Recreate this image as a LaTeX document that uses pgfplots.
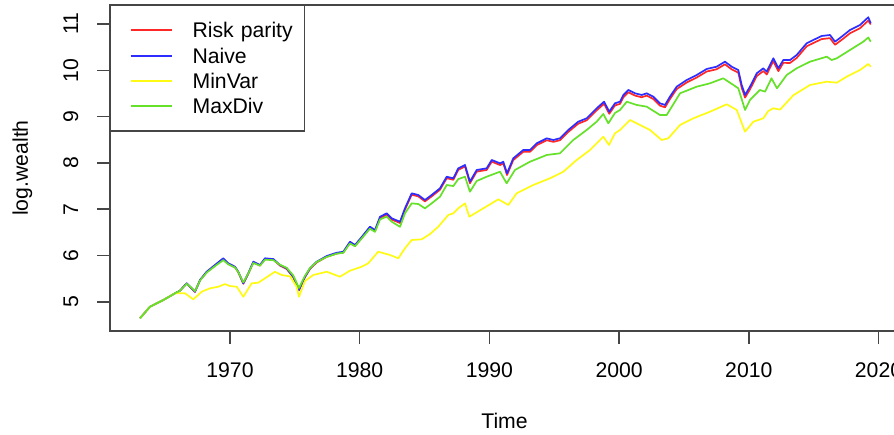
\documentclass[border=0pt]{standalone}
\usepackage{pgfplots}
\usepackage{pgfplotstable}
\pgfplotsset{compat=1.18}
\usepackage{fontspec}
\setmainfont{Liberation Sans}

\definecolor{rpcol}{RGB}{255,40,40}
\definecolor{nvcol}{RGB}{45,45,255}
\definecolor{mvcol}{RGB}{255,250,20}
\definecolor{mdcol}{RGB}{100,225,40}
\definecolor{framecol}{RGB}{70,70,70}

% Risk parity and naive (equal weight) portfolios, log of wealth
\pgfplotstableread{
year    rp      naive
1963.06 4.644   4.644
1963.83 4.894   4.894
1964.86 5.039   5.039
1965.76 5.184   5.184
1966.14 5.240   5.240
1966.66 5.395   5.400
1967.05 5.287   5.292
1967.30 5.213   5.218
1967.69 5.465   5.471
1968.20 5.640   5.650
1968.84 5.785   5.795
1969.48 5.925   5.940
1969.87 5.818   5.832
1970.39 5.745   5.758
1970.64 5.638   5.650
1971.03 5.390   5.400
1971.41 5.605   5.616
1971.80 5.852   5.866
1972.31 5.782   5.795
1972.70 5.925   5.940
1973.34 5.910   5.924
1973.86 5.782   5.795
1974.37 5.710   5.724
1974.88 5.530   5.542
1975.32 5.250   5.255
1975.78 5.530   5.542
1976.17 5.710   5.724
1976.68 5.850   5.866
1977.46 5.972   5.989
1978.23 6.042   6.060
1978.74 6.064   6.082
1979.25 6.278   6.298
1979.64 6.207   6.227
1980.28 6.420   6.443
1980.79 6.598   6.622
1981.18 6.527   6.551
1981.57 6.812   6.838
1982.08 6.884   6.911
1982.47 6.776   6.803
1983.11 6.702   6.730
1983.49 6.990   7.019
1984.01 7.313   7.343
1984.52 7.277   7.307
1985.03 7.169   7.199
1985.55 7.277   7.307
1986.19 7.420   7.451
1986.71 7.670   7.702
1987.22 7.635   7.667
1987.60 7.850   7.883
1988.12 7.922   7.955
1988.50 7.560   7.594
1989.02 7.812   7.847
1989.79 7.848   7.883
1990.18 8.027   8.063
1990.82 7.954   7.991
1991.07 7.989   8.026
1991.36 7.738   7.775
1991.84 8.061   8.099
1992.61 8.240   8.279
1993.13 8.240   8.279
1993.65 8.383   8.423
1994.42 8.490   8.531
1994.93 8.454   8.495
1995.44 8.490   8.531
1996.08 8.669   8.711
1996.85 8.847   8.890
1997.50 8.920   8.963
1998.27 9.135   9.179
1998.84 9.277   9.322
1999.24 9.061   9.106
1999.68 9.241   9.287
2000.07 9.275   9.322
2000.33 9.419   9.467
2000.71 9.526   9.575
2001.23 9.454   9.503
2001.74 9.417   9.467
2002.13 9.453   9.503
2002.64 9.380   9.430
2003.15 9.237   9.287
2003.54 9.200   9.251
2003.92 9.379   9.430
2004.44 9.594   9.646
2005.21 9.737   9.790
2005.98 9.844   9.898
2006.75 9.973   10.028
2007.52 10.022  10.078
2008.16 10.129  10.186
2008.68 10.020  10.078
2009.19 9.948   10.006
2009.45 9.625   9.683
2009.71 9.410   9.467
2010.09 9.588   9.646
2010.61 9.876   9.935
2011.12 9.983   10.043
2011.38 9.910   9.970
2011.89 10.198  10.259
2012.28 9.982   10.043
2012.66 10.160  10.222
2013.18 10.159  10.222
2013.69 10.266  10.330
2014.46 10.518  10.583
2014.97 10.588  10.654
2015.62 10.674  10.741
2016.26 10.694  10.762
2016.65 10.550  10.618
2017.16 10.657  10.726
2017.80 10.800  10.870
2018.57 10.907  10.978
2019.21 11.074  11.145
2019.40 10.990  11.015
}\rpnaive

% Minimum variance portfolio
\pgfplotstableread{
year    minvar
1963.06 4.644
1963.83 4.894
1964.86 5.039
1965.76 5.184
1966.53 5.184
1967.17 5.054
1967.82 5.218
1968.46 5.292
1969.10 5.326
1969.61 5.384
1970.00 5.341
1970.52 5.326
1971.03 5.110
1971.67 5.400
1972.18 5.413
1972.70 5.508
1973.47 5.650
1973.99 5.579
1974.63 5.550
1975.14 5.326
1975.32 5.110
1975.78 5.450
1976.42 5.579
1977.46 5.650
1978.48 5.542
1979.25 5.672
1980.15 5.758
1980.66 5.832
1981.43 6.082
1982.34 6.011
1982.98 5.940
1983.49 6.156
1984.01 6.335
1984.78 6.350
1985.42 6.464
1986.06 6.622
1986.83 6.875
1987.22 6.911
1987.60 7.019
1988.12 7.127
1988.45 6.838
1989.53 7.019
1990.69 7.214
1991.46 7.091
1992.10 7.343
1993.38 7.523
1994.67 7.667
1995.70 7.810
1996.73 8.063
1997.76 8.279
1998.78 8.566
1999.22 8.387
1999.68 8.639
2000.07 8.711
2000.84 8.927
2001.61 8.819
2002.38 8.711
2003.28 8.495
2003.79 8.531
2004.70 8.819
2005.72 8.963
2007.01 9.106
2008.30 9.266
2009.07 9.143
2009.71 8.674
2010.35 8.890
2011.12 8.963
2011.50 9.120
2011.89 9.180
2012.41 9.150
2013.43 9.460
2014.72 9.683
2016.01 9.754
2016.78 9.732
2017.55 9.862
2018.57 10.006
2019.21 10.136
2019.40 10.078
}\minvar

% Maximum diversification portfolio
\pgfplotstableread{
year    maxdiv
1963.06 4.644
1963.83 4.894
1964.86 5.039
1965.76 5.184
1966.14 5.240
1966.66 5.390
1967.05 5.300
1967.30 5.230
1967.69 5.460
1968.20 5.630
1968.84 5.770
1969.48 5.900
1969.87 5.810
1970.39 5.740
1970.64 5.640
1971.03 5.420
1971.41 5.610
1971.80 5.840
1972.31 5.780
1972.70 5.910
1973.34 5.900
1973.86 5.800
1974.37 5.735
1974.88 5.570
1975.32 5.300
1975.78 5.560
1976.17 5.730
1976.68 5.860
1977.46 5.970
1978.23 6.040
1978.74 6.060
1979.25 6.260
1979.64 6.200
1980.28 6.410
1980.79 6.580
1981.18 6.510
1981.57 6.780
1982.08 6.840
1982.47 6.730
1983.11 6.620
1983.49 6.911
1984.01 7.127
1984.52 7.112
1985.03 7.019
1985.55 7.127
1986.19 7.270
1986.71 7.523
1987.22 7.500
1987.60 7.650
1988.12 7.702
1988.50 7.378
1989.02 7.609
1989.79 7.702
1990.82 7.810
1991.33 7.559
1991.97 7.847
1993.13 8.026
1994.42 8.171
1995.44 8.207
1996.47 8.495
1997.50 8.711
1998.27 8.890
1998.78 9.056
1999.17 8.855
1999.68 9.078
2000.07 9.143
2000.59 9.322
2001.36 9.251
2002.13 9.214
2003.15 9.035
2003.67 9.035
2004.70 9.503
2005.98 9.646
2007.01 9.719
2008.03 9.827
2008.81 9.683
2009.19 9.611
2009.71 9.143
2010.09 9.359
2010.86 9.575
2011.25 9.538
2011.75 9.827
2012.17 9.611
2012.92 9.898
2013.69 10.043
2014.72 10.186
2016.01 10.294
2016.39 10.222
2016.78 10.259
2017.80 10.438
2018.83 10.618
2019.21 10.708
2019.40 10.618
}\maxdiv

\begin{document}
\begin{tikzpicture}[font=\fontsize{10.6pt}{12.7pt}\selectfont]
\begin{axis}[
  scale only axis,
  width=394.5pt, height=163pt,
  xmin=1960.75, xmax=2021.58,
  ymin=4.37, ymax=11.41,
  axis line style={framecol, line width=0.75pt},
  tick style={framecol, line width=0.75pt},
  tick align=outside,
  major tick length=6.5pt,
  xtick={1970,1980,1990,2000,2010,2020},
  xticklabels={1970,1980,1990,2000,2010,2020},
  ytick={5,6,7,8,9,10,11},
  yticklabels={5,6,7,8,9,10,11},
  xtick pos=bottom, ytick pos=left,
  xticklabel style={anchor=north, inner sep=0pt, yshift=-9pt},
  yticklabel style={xshift=-9.5pt, rotate=90, anchor=base, inner sep=0pt},
  xlabel={Time},
  ylabel={log.wealth},
  xlabel style={at={(axis description cs:0.5,0)}, anchor=north, inner sep=0pt, yshift=-41pt},
  ylabel style={at={(axis description cs:0,0.5)}, anchor=base, inner sep=0pt, yshift=41pt},
  legend style={
    at={(0,1)}, anchor=north west,
    draw=framecol, line width=0.75pt, fill=white,
    inner xsep=0pt, inner ysep=8.45pt,
    row sep=5.07pt, column sep=10pt,
    nodes={inner sep=0pt, text height=7.6pt, text depth=0pt, text width=56pt, align=left},
  },
  legend cell align=left,
  legend image code/.code={\path (0pt,0pt); \draw[#1, line width=1pt] (9.5pt,0pt) -- (30pt,0pt);},
  every axis plot/.append style={line width=0.85pt, line join=round},
]
\addplot[rpcol] table[x=year, y=rp] {\rpnaive};
\addplot[nvcol] table[x=year, y=naive] {\rpnaive};
\addplot[mvcol] table[x=year, y=minvar] {\minvar};
\addplot[mdcol] table[x=year, y=maxdiv] {\maxdiv};
\legend{Risk parity, Naive, MinVar, MaxDiv}
\coordinate (O) at (rel axis cs:0,0);
\end{axis}
\pgfresetboundingbox
\useasboundingbox ([shift={(-55pt,-51.5pt)}]O) rectangle ([shift={(392pt,165.5pt)}]O);
\end{tikzpicture}
\end{document}
